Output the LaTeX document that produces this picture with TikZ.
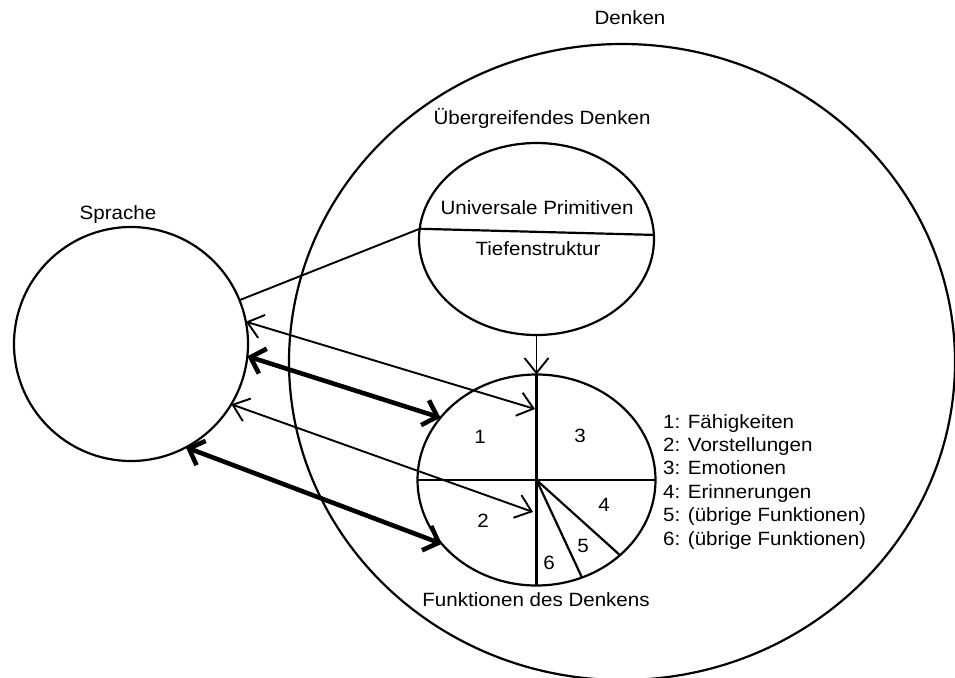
\documentclass[tikz,border=0pt]{standalone}
\usepackage{fontspec}
\setmainfont{Liberation Sans}[FakeStretch=1.07]
\usetikzlibrary{shapes.geometric,arrows.meta,calc}
\begin{document}
\begin{tikzpicture}[x=1pt,y=-1pt,
  outline/.style={draw, line width=2.2pt, ellipse, inner sep=0pt, outer sep=0pt},
  lbl/.style={font=\fontsize{19.2}{23}\selectfont, inner sep=0pt, anchor=base},
  conn/.style={line width=1.9pt},
  divider/.style={line width=2.2pt},
  thinarrow/.style={line width=1.9pt, {Straight Barb[length=15pt,width=24pt]}-{Straight Barb[length=15pt,width=24pt]}},
  boldarrow/.style={line width=4.6pt, {Straight Barb[length=13pt,width=26pt]}-{Straight Barb[length=13pt,width=26pt]}},
  downarrow/.style={line width=1.9pt, -{Straight Barb[length=15pt,width=24pt]}},
]
\useasboundingbox (0,0) rectangle (955,677);
\fill[white] (0,0) rectangle (955,677);

% main shapes
\node[outline, minimum width=666pt, minimum height=636pt] (denken) at (622,362) {};
\node[outline, circle, minimum size=234pt] (sprache) at (131,344) {};
\node[outline, minimum width=235pt, minimum height=192pt] (ue) at (536.5,239) {};
\node[outline, minimum width=238pt, minimum height=211pt] (fd) at (536.5,480) {};

% labels
\node[lbl] (denkenl) at (630,25) {Denken};
\node[lbl] (sprachel) at (118,219) {Sprache};
\node[lbl] (uel) at (542,124) {Übergreifendes Denken};
\node[lbl] (up) at (537,214) {Universale Primitiven};
\node[lbl] (tf) at (538,255) {Tiefenstruktur};
\node[lbl] (fdl) at (536,606) {Funktionen des Denkens};

% inner divisions
\draw[divider] (ue.175) -- (ue.2.5);
\draw[divider] (fd.west) -- (fd.east);
\draw[divider] (fd.north) -- (fd.south);
\draw[divider] (fd.center) -- (fd.-42);
\draw[divider] (fd.center) -- (fd.-65.6);

% sector numbers
\node[lbl] (n1) at (480,443) {1};
\node[lbl] (n3) at (580,442) {3};
\node[lbl] (n2) at (483,527) {2};
\node[lbl] (n4) at (604,511) {4};
\node[lbl] (n5) at (583,552) {5};
\node[lbl] (n6) at (549,569) {6};

% connectors
\coordinate (a1) at ($(fd.center)+(-1.5,-71)$);
\coordinate (a2) at ($(fd.center)+(-3.5,32)$);
\draw[downarrow] (ue.south) -- (fd.north);
\draw[conn] (ue.175) -- (sprache.22.9);
\draw[thinarrow] (sprache.11.4) -- (a1);
\draw[boldarrow] (sprache.-6.2) -- (fd.147.4);
\draw[thinarrow] (sprache.-31.7) -- (a2);
\draw[boldarrow] (sprache.-62.6) -- (fd.214.7);

% legend
\foreach \t [count=\n] in {1: Fähigkeiten, 2: Vorstellungen, 3: Emotionen, 4: Erinnerungen, 5: (übrige Funktionen), 6: (übrige Funktionen)}
  \node[lbl, anchor=base west] (leg\n) at (663,{428+23.4*(\n-1)}) {\t};
\end{tikzpicture}
\end{document}
